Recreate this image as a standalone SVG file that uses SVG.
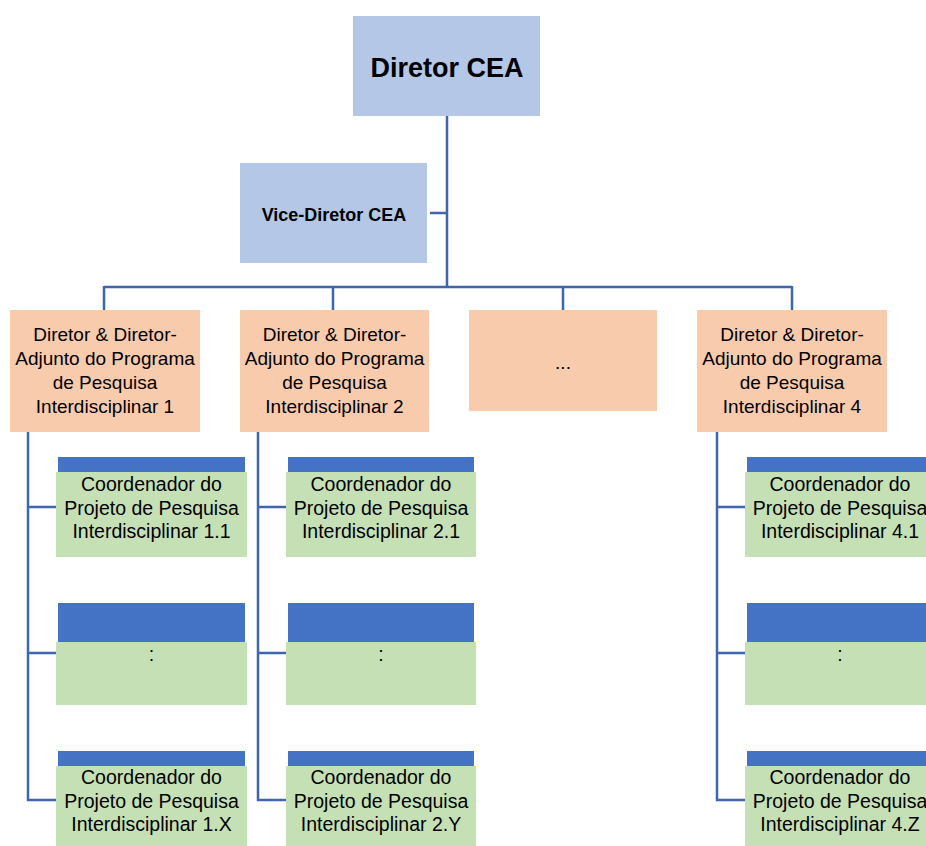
<svg xmlns="http://www.w3.org/2000/svg" width="926" height="846" viewBox="0 0 926 846">
<style>
.top{fill:#B4C7E7}
.prog{fill:#F8CBAD}
.proj{fill:#C5E0B4}
.bar{fill:#4472C4}
text{font-family:"Liberation Sans",Arial,sans-serif;fill:#000;text-anchor:middle}
.t{font-size:19px}
.g{font-size:19.5px}
.b1{font-size:27px;font-weight:bold}
.b2{font-size:18px;font-weight:bold}
.con{stroke:#3F66AA;stroke-width:2.5;fill:none}
</style>
<rect width="926" height="846" fill="#fff"/>
<g id="connectors" class="con">
<path d="M447 116V287M430 213H447M104 287H792M104 286V310M333 286V310M563 286V310M792 286V310"/>
<path d="M28 432V800H56M28 507H56M28 653H56"/>
<path d="M258 432V800H286M258 507H286M258 653H286"/>
<path d="M717 432V800H745M717 507H745M717 653H745"/>
</g>
<g id="director"><rect class="top" x="353" y="16" width="187" height="100"/><text class="b1" x="447" y="77">Diretor CEA</text></g>
<g id="vice"><rect class="top" x="240" y="163" width="187" height="100"/><text class="b2" x="334" y="221">Vice-Diretor CEA</text></g>
<g id="prog1"><rect class="prog" x="10" y="310" width="190" height="122"/><text class="t" x="105"><tspan x="105" y="341">Diretor &amp; Diretor-</tspan><tspan x="105" y="365">Adjunto do Programa</tspan><tspan x="105" y="389">de Pesquisa</tspan><tspan x="105" y="413">Interdisciplinar 1</tspan></text></g>
<g id="prog2"><rect class="prog" x="240" y="310" width="189" height="122"/><text class="t" x="334.5"><tspan x="334.5" y="341">Diretor &amp; Diretor-</tspan><tspan x="334.5" y="365">Adjunto do Programa</tspan><tspan x="334.5" y="389">de Pesquisa</tspan><tspan x="334.5" y="413">Interdisciplinar 2</tspan></text></g>
<g id="prog3"><rect class="prog" x="469" y="310" width="188" height="101"/><text class="t" x="563" y="369">...</text></g>
<g id="prog4"><rect class="prog" x="697" y="310" width="190" height="122"/><text class="t" x="792"><tspan x="792" y="341">Diretor &amp; Diretor-</tspan><tspan x="792" y="365">Adjunto do Programa</tspan><tspan x="792" y="389">de Pesquisa</tspan><tspan x="792" y="413">Interdisciplinar 4</tspan></text></g>
<g id="proj1-1"><rect class="bar" x="58" y="457" width="187" height="15"/><rect class="proj" x="56" y="472" width="191" height="85"/><text class="g"><tspan x="151.5" y="491">Coordenador do</tspan><tspan x="151.5" y="515">Projeto de Pesquisa</tspan><tspan x="151.5" y="538">Interdisciplinar 1.1</tspan></text></g>
<g id="proj1-2"><rect class="bar" x="58" y="603" width="187" height="39"/><rect class="proj" x="56" y="642" width="191" height="63"/><text class="g" x="151.5" y="661">:</text></g>
<g id="proj1-3"><rect class="bar" x="58" y="751" width="187" height="15"/><rect class="proj" x="56" y="766" width="191" height="85"/><text class="g"><tspan x="151.5" y="784">Coordenador do</tspan><tspan x="151.5" y="808">Projeto de Pesquisa</tspan><tspan x="151.5" y="831">Interdisciplinar 1.X</tspan></text></g>
<g id="proj2-1"><rect class="bar" x="288" y="457" width="186" height="15"/><rect class="proj" x="286" y="472" width="190" height="85"/><text class="g"><tspan x="381" y="491">Coordenador do</tspan><tspan x="381" y="515">Projeto de Pesquisa</tspan><tspan x="381" y="538">Interdisciplinar 2.1</tspan></text></g>
<g id="proj2-2"><rect class="bar" x="288" y="603" width="186" height="39"/><rect class="proj" x="286" y="642" width="190" height="63"/><text class="g" x="381" y="661">:</text></g>
<g id="proj2-3"><rect class="bar" x="288" y="751" width="186" height="15"/><rect class="proj" x="286" y="766" width="190" height="85"/><text class="g"><tspan x="381" y="784">Coordenador do</tspan><tspan x="381" y="808">Projeto de Pesquisa</tspan><tspan x="381" y="831">Interdisciplinar 2.Y</tspan></text></g>
<g id="proj4-1"><rect class="bar" x="747" y="457" width="186" height="15"/><rect class="proj" x="745" y="472" width="190" height="85"/><text class="g"><tspan x="840" y="491">Coordenador do</tspan><tspan x="840" y="515">Projeto de Pesquisa</tspan><tspan x="840" y="538">Interdisciplinar 4.1</tspan></text></g>
<g id="proj4-2"><rect class="bar" x="747" y="603" width="186" height="39"/><rect class="proj" x="745" y="642" width="190" height="63"/><text class="g" x="840" y="661">:</text></g>
<g id="proj4-3"><rect class="bar" x="747" y="751" width="186" height="15"/><rect class="proj" x="745" y="766" width="190" height="85"/><text class="g"><tspan x="840" y="784">Coordenador do</tspan><tspan x="840" y="808">Projeto de Pesquisa</tspan><tspan x="840" y="831">Interdisciplinar 4.Z</tspan></text></g>
</svg>
